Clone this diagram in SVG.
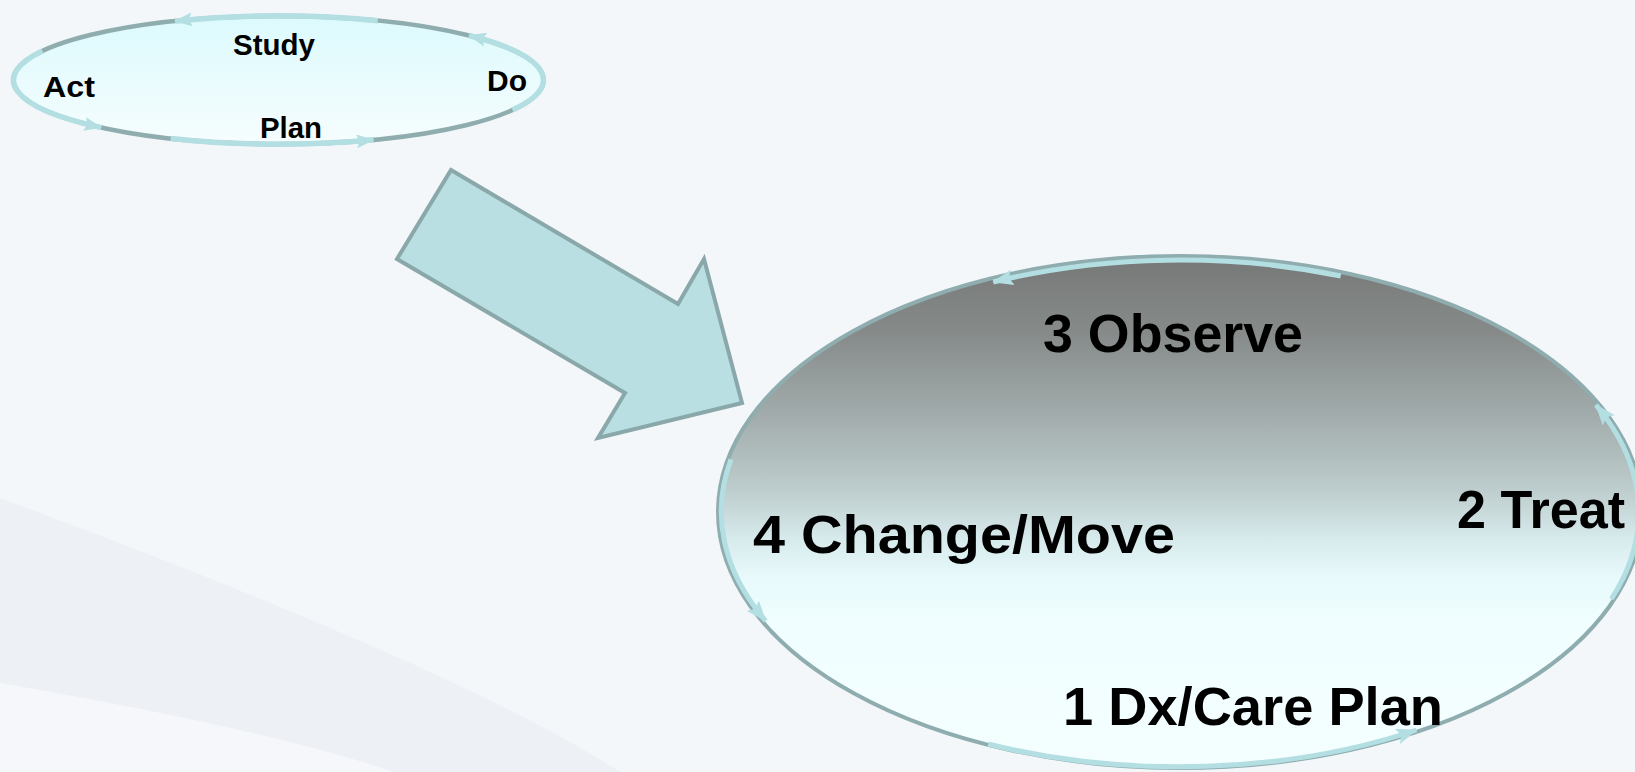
<svg xmlns="http://www.w3.org/2000/svg" width="1635" height="772" viewBox="0 0 1635 772">
  <defs>
    <linearGradient id="smallFill" x1="0" y1="0" x2="0" y2="1">
      <stop offset="0" stop-color="#dcfafd"/>
      <stop offset="1" stop-color="#f6fdfe"/>
    </linearGradient>
    <linearGradient id="bigFill" gradientUnits="userSpaceOnUse" x1="0" y1="256" x2="0" y2="768">
      <stop offset="0" stop-color="#767877"/>
      <stop offset="0.15" stop-color="#868b8a"/>
      <stop offset="0.3" stop-color="#a0a9a9"/>
      <stop offset="0.45" stop-color="#bccbcb"/>
      <stop offset="0.55" stop-color="#d6e9eb"/>
      <stop offset="0.63" stop-color="#e8fafc"/>
      <stop offset="0.72" stop-color="#f0feff"/>
      <stop offset="1" stop-color="#f4feff"/>
    </linearGradient>
    <marker id="headSmall" markerUnits="userSpaceOnUse" viewBox="0 0 18 14" markerWidth="18" markerHeight="14" refX="17" refY="7" orient="auto">
      <path d="M0,0 L18,7 L0,14 L3,7 z" fill="#b3dfe3"/>
    </marker>
    <marker id="headBig" markerUnits="userSpaceOnUse" viewBox="0 0 21 16" markerWidth="21" markerHeight="16" refX="20" refY="8" orient="auto">
      <path d="M0,0 L21,8 L0,16 L4,8 z" fill="#b3dfe3"/>
    </marker>
    <style>
      .ring { stroke: #8fadaf; }
      .arc { fill: none; stroke: #b3dfe3; stroke-linecap: butt; }
      .arc-s { stroke-width: 5.5; marker-end: url(#headSmall); }
      .arc-b { stroke-width: 5; marker-end: url(#headBig); }
      .lbl { font-family: "Liberation Sans", Arial, sans-serif; font-weight: bold; fill: #000; }
      .lbl-s { font-size: 29px; }
      .lbl-b { font-size: 53px; }
    </style>
  </defs>

  <!-- backdrop with soft diagonal bands -->
  <g id="backdrop">
    <rect x="0" y="0" width="1635" height="772" fill="#f3f7fa"/>
    <path d="M0,498 Q460.7,668.5 620,772 L393,772 Q277.7,731.6 0,683 Z" fill="#edf1f5"/>
    <path d="M0,683 Q277.7,731.6 393,772 L0,772 Z" fill="#f6f7fa"/>
  </g>

  <!-- PDSA cycle -->
  <g id="pdsa-cycle">
    <ellipse class="ring" cx="278.5" cy="80" rx="265" ry="64" fill="url(#smallFill)" stroke-width="4.5"/>
    <text class="lbl lbl-s" x="233" y="55" textLength="82" lengthAdjust="spacingAndGlyphs">Study</text>
    <text class="lbl lbl-s" x="43" y="97" textLength="52" lengthAdjust="spacingAndGlyphs">Act</text>
    <text class="lbl lbl-s" x="487" y="91" textLength="40" lengthAdjust="spacingAndGlyphs">Do</text>
    <text class="lbl lbl-s" x="260" y="138" textLength="62" lengthAdjust="spacingAndGlyphs">Plan</text>
  </g>

  <!-- block arrow leading into the care cycle -->
  <g id="transition-arrow">
    <polygon points="451,170 678,304 704,259 742,403 598,438 625,393 397,259" fill="#b9dfe2" stroke="#8aa8aa" stroke-width="4" stroke-linejoin="miter"/>
  </g>

  <!-- care cycle -->
  <g id="care-cycle">
    <ellipse class="ring" cx="1180" cy="512" rx="462" ry="256" fill="url(#bigFill)" stroke-width="4"/>
    <text class="lbl lbl-b" x="1043" y="352" textLength="260" lengthAdjust="spacingAndGlyphs">3 Observe</text>
    <text class="lbl lbl-b" x="753" y="553" textLength="422" lengthAdjust="spacingAndGlyphs">4 Change/Move</text>
    <text class="lbl lbl-b" x="1457" y="528" textLength="168" lengthAdjust="spacingAndGlyphs">2 Treat</text>
    <text class="lbl lbl-b" x="1063" y="725" textLength="380" lengthAdjust="spacingAndGlyphs">1 Dx/Care Plan</text>
  </g>

  <!-- cycle arrows running along both rings -->
  <g id="connectors">
    <path class="arc arc-s" d="M170.7,138.5 A265,64 0 0 0 373.5,139.8"/>
    <path class="arc arc-s" d="M512.5,110 A265,64 0 0 0 469.1,35.5"/>
    <path class="arc arc-s" d="M377.8,20.7 A265,64 0 0 0 175,21.1"/>
    <path class="arc arc-s" d="M42.4,50.9 A265,64 0 0 0 101.2,127.6"/>

    <path class="arc arc-b" d="M988.2,744 A460,255 0 0 0 1416.4,730"/>
    <path class="arc arc-b" d="M1611.3,599 A460,255 0 0 0 1596,405"/>
    <path class="arc arc-b" d="M1340.7,276 A458,252 0 0 0 993.3,282"/>
    <path class="arc arc-b" d="M731,459.4 A460,255 0 0 0 765.7,620.9"/>
  </g>
</svg>
